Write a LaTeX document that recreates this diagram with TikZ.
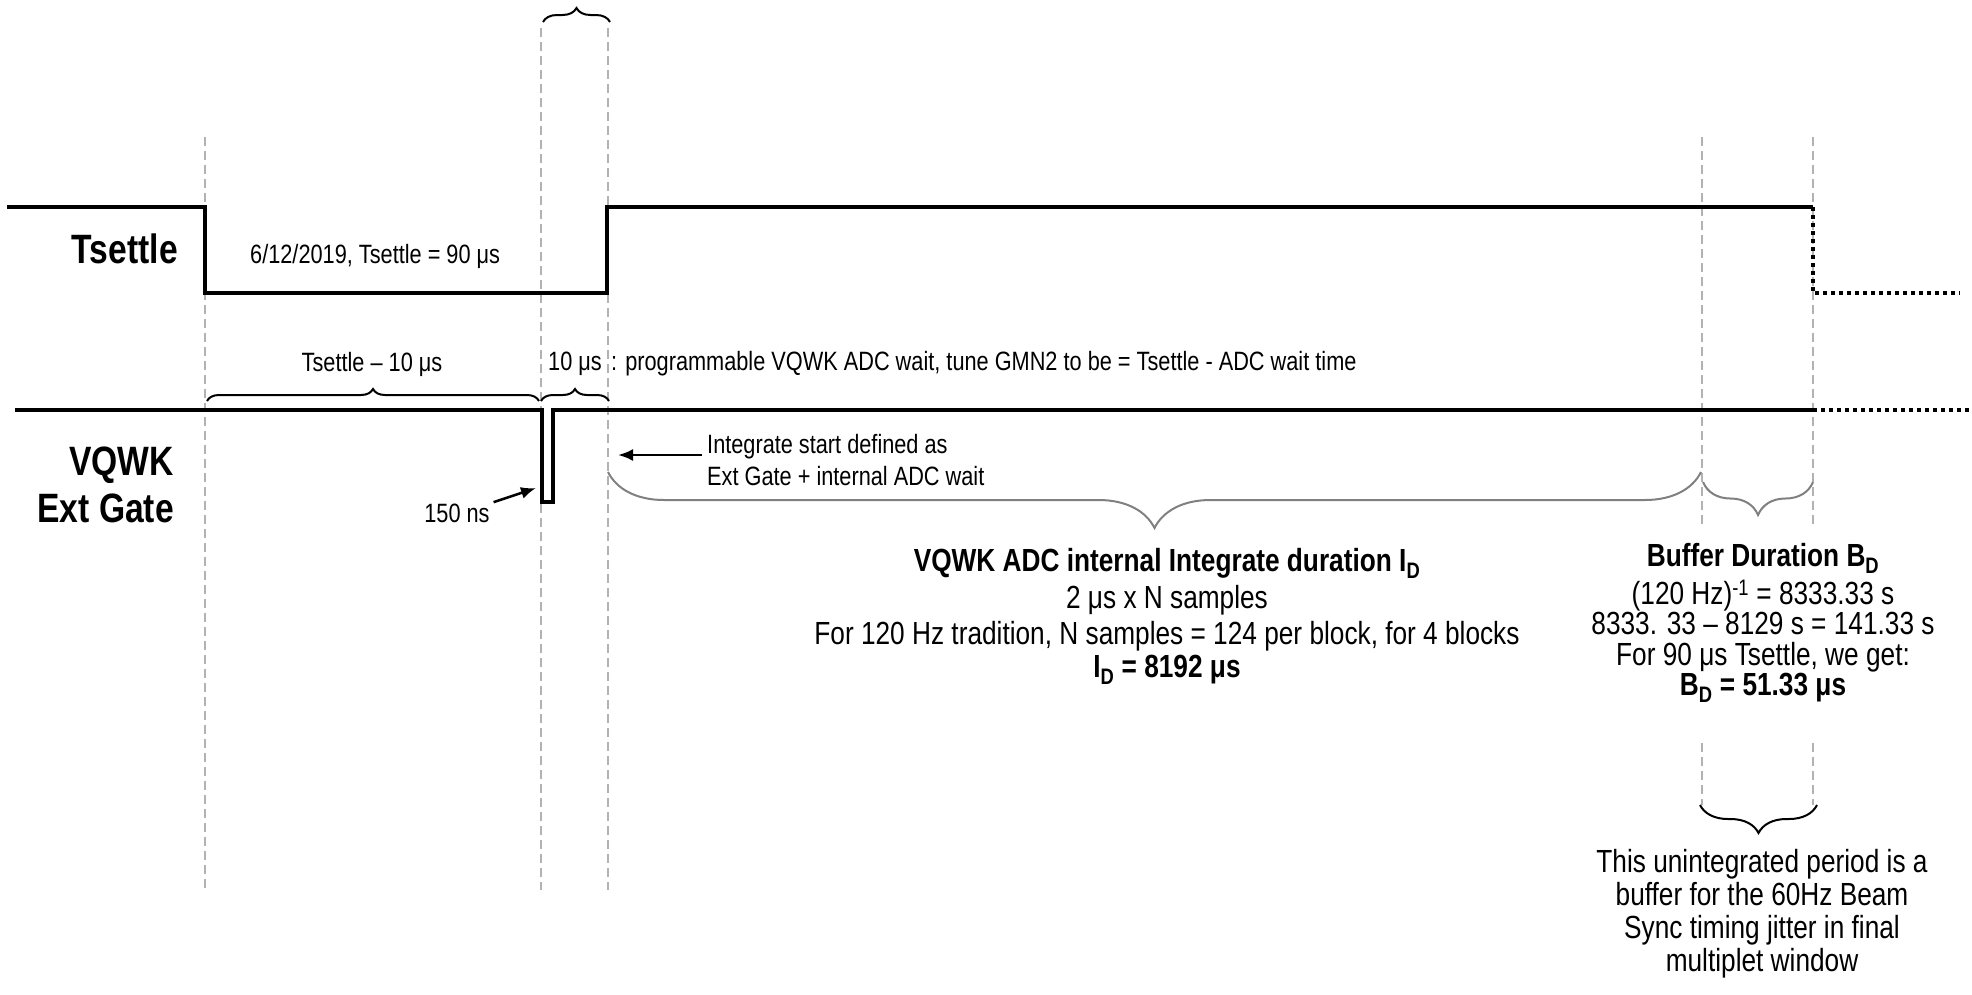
\documentclass[tikz,border=0pt]{standalone}
\usepackage{fontspec}
\setmainfont{Liberation Sans}[FakeStretch=0.82]
\usepackage{tikz}
\usetikzlibrary{positioning,arrows.meta,decorations.pathreplacing}

\begin{document}
\begin{tikzpicture}[x=1pt, y=-1pt,
    sig/.style={line width=3.5pt},
    future/.style={line width=3.5pt, dash pattern=on 3.5pt off 4.5pt},
    guide/.style={gray!60, line width=1.3pt, dash pattern=on 9pt off 5pt},
    brc/.style={decorate, decoration={brace, amplitude=#1}, line width=2pt},
    brcd/.style={brc=#1, decoration={mirror}},
    arr/.style={-{Latex[length=15pt, width=12pt]}, line width=2.5pt},
    note/.style={font=\fontsize{26.5}{32}\selectfont, inner sep=0pt},
    big/.style={font=\fontsize{32}{36}\selectfont, align=center, inner sep=0pt},
    siglabel/.style={font=\fontsize{41}{47}\selectfont\bfseries, align=right, inner sep=0pt}]

    \useasboundingbox (0,0) rectangle (1972,994);

    % guide lines
    \foreach \gx/\gy in {205/137, 541/28, 608/28}
        \draw[guide] (\gx,\gy) -- (\gx,890);
    \foreach \gx in {1702,1813} {
        \draw[guide] (\gx,137) -- (\gx,527);
        \draw[guide] (\gx,743) -- (\gx,805);
    }

    % signals
    \draw[sig] (7,207) -- (205,207) -- (205,293) -- (607,293) -- (607,207) -- (1813,207);
    \draw[future] (1813,207) -- (1813,293) -- (1960,293);
    \draw[sig] (15,410) -- (542,410) -- (542,502) -- (553,502) -- (553,410) -- (1813,410);
    \draw[future] (1813,410) -- (1972,410);

    \node[siglabel, anchor=east] (tset) at (178,249) {Tsettle};
    \node[siglabel, anchor=east] (gate) at (174,485) {VQWK\\Ext Gate};
    \node[note, anchor=west] (date) at (250,256) {6/12/2019, Tsettle = 90 μs};

    % braces above the gate
    \draw[brc=14pt] (543,22) -- (610,22);
    \draw[brc=12pt] (207,401) -- (539,401);
    \draw[brc=12pt] (541,401) -- (609,401);
    \node[note] (tminus) at (372,364) {Tsettle – 10 μs};
    \node[note] (wait) at (575,364) {10 μs};
    \node[note, anchor=west] (waitnote) at (611,364) {: programmable VQWK ADC wait, tune GMN2 to be = Tsettle - ADC wait time};

    % arrows
    \node[note, anchor=west, align=left] (intstart) at (707,460) {Integrate start defined as\\Ext Gate + internal ADC wait};
    \coordinate (intedge) at (618,455);
    \draw[arr, shorten <=5pt] (intstart.west |- intedge) -- (intedge);
    \node[note] (pulsewidth) at (457,513) {150 ns};
    \coordinate (pulsefoot) at (536,488);
    \draw[arr, shorten <=4pt] (pulsewidth.north east) -- (pulsefoot);

    % durations
    \draw[brcd=56pt, gray] (608,472) -- (1701,472);
    \draw[brcd=33pt, gray] (1703,482) -- (1813,482);
    \node[big] (integ) at (1167,616) {\textbf{VQWK ADC internal Integrate duration I\textsubscript{D}}\\[1pt]
        2 μs x N samples\\
        For 120 Hz tradition, N samples = 124 per block, for 4 blocks\\[-3pt]
        \textbf{I\textsubscript{D} = 8192 μs}};
    \node[big, font=\fontsize{32}{30.5}\selectfont] (buffer) at (1763,623) {\textbf{Buffer Duration B\textsubscript{D}}\\[5pt]
        (120 Hz)\textsuperscript{-1} = 8333.33 s\\
        8333. 33 – 8129 s = 141.33 s\\
        For 90 μs Tsettle, we get:\\
        \textbf{B\textsubscript{D} = 51.33 μs}};

    \draw[brcd=28pt] (1700,805) -- (1817,805);
    \node[big, font=\fontsize{32}{33}\selectfont] (jitter) at (1762,914) {This unintegrated period is a\\
        buffer for the 60Hz Beam\\
        Sync timing jitter in final\\
        multiplet window};
\end{tikzpicture}
\end{document}
